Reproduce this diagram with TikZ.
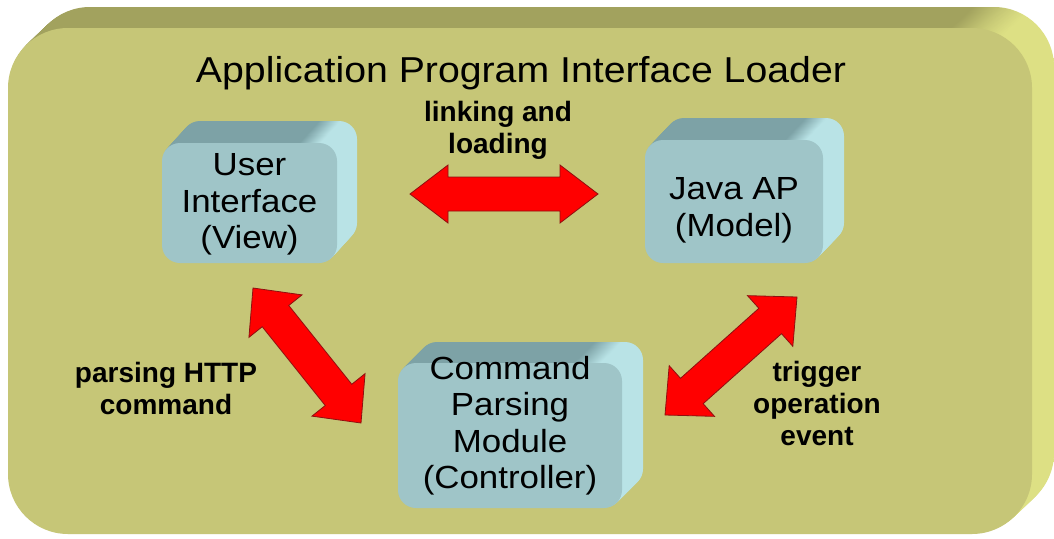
\documentclass[tikz,border=0pt]{standalone}
\usepackage{fontspec}
\setmainfont{Liberation Sans}
\usetikzlibrary{calc}
\definecolor{slabfront}{HTML}{C6C677}
\definecolor{slabtop}{HTML}{A2A25E}
\definecolor{slabside}{HTML}{DDE084}
\definecolor{boxfront}{HTML}{9FC5C8}
\definecolor{boxtop}{HTML}{7DA2A6}
\definecolor{boxside}{HTML}{B9E3E6}
\definecolor{arrowred}{HTML}{FF0000}
\definecolor{arrowline}{HTML}{8E1010}
\pgfdeclarehorizontalshading{slabshade}{100bp}{color(0bp)=(slabtop); color(25bp)=(slabtop); color(71bp)=(slabtop); color(73.5bp)=(slabside); color(100bp)=(slabside)}
\pgfdeclarehorizontalshading{boxshade}{100bp}{color(0bp)=(boxtop); color(25bp)=(boxtop); color(64bp)=(boxtop); color(70bp)=(boxside); color(100bp)=(boxside)}
% extruded sides: shading, x1, y1, x2, y2, dx, dy, radius
\newcommand\extrudesides[8]{%
  \foreach \k in {20,19,...,1}{%
    \shade[shading=#1, rounded corners=#8]
      ({#2+#6*\k/20},{#3+#7*\k/20}) rectangle ({#4+#6*\k/20},{#5+#7*\k/20});
  }}
% block arrow between two named coordinates: from, to, head length, head half width, shaft half width
\newcommand\blockarrow[5]{%
  \path[bigarrow] (#1)
    -- ($(#1)!#3!(#2)!#4!90:(#2)$)
    -- ($(#1)!#3!(#2)!#5!90:(#2)$)
    -- ($(#2)!#3!(#1)!#5!-90:(#1)$)
    -- ($(#2)!#3!(#1)!#4!-90:(#1)$)
    -- (#2)
    -- ($(#2)!#3!(#1)!#4!90:(#1)$)
    -- ($(#2)!#3!(#1)!#5!90:(#1)$)
    -- ($(#1)!#3!(#2)!#5!-90:(#2)$)
    -- ($(#1)!#3!(#2)!#4!-90:(#2)$)
    -- cycle;}
\newcommand\widetext[1]{\scalebox{1.09}[1]{\begin{tabular}{@{}c@{}}#1\end{tabular}}}
\tikzset{
  slabface/.style={fill=slabfront, rounded corners=60pt, inner sep=0pt},
  boxface/.style={fill=boxfront, rounded corners=18pt, inner sep=0pt},
  boxtext/.style={align=center, font=\fontsize{32}{36.5}\selectfont, text=black},
  titletext/.style={font=\fontsize{36}{40}\selectfont, text=black},
  labeltext/.style={align=center, font=\fontsize{28}{32}\selectfont\bfseries, text=black},
  bigarrow/.style={fill=arrowred, draw=arrowline, line width=0.8pt, line join=miter},
}
\begin{document}
\begin{tikzpicture}[x=1pt, y=-1pt]
\useasboundingbox[fill=white] (0,0) rectangle (1054,538);
% big slab
\extrudesides{slabshade}{8}{28}{1032}{534}{22}{-21}{60pt}
\node[slabface, minimum width=1024pt, minimum height=506pt] (slab) at (520,281) {};
\node[titletext] (title) at (521,73) {\scalebox{1.09}[1]{Application Program Interface Loader}};
% boxes
\extrudesides{boxshade}{162}{143}{337}{263}{20}{-22}{18pt}
\node[boxface, minimum width=175pt, minimum height=120pt] (ui) at (249.5,203) {};
\node[boxtext] (uitext) at ([yshift=-2pt]ui.center) {\widetext{User\\Interface\\(View)}};
\extrudesides{boxshade}{645}{140}{823}{263}{21}{-22}{18pt}
\node[boxface, minimum width=178pt, minimum height=123pt] (model) at (734,201.5) {};
\node[boxtext] (modeltext) at ([yshift=-9pt]model.center) {\widetext{Java AP\\(Model)}};
\extrudesides{boxshade}{398}{363}{622}{508}{21}{-21}{18pt}
\node[boxface, minimum width=224pt, minimum height=145pt] (ctrl) at (510,435.5) {};
\node[boxtext] (ctrltext) at ([yshift=9pt]ctrl.center) {\widetext{Command\\Parsing\\Module\\(Controller)}};
% arrows
\coordinate (la1) at (410,194);
\coordinate (la2) at (598,194);
\coordinate (pa1) at (253,288);
\coordinate (pa2) at (361,423);
\coordinate (ta1) at (797,297);
\coordinate (ta2) at (665,415);
\blockarrow{la1}{la2}{38pt}{29pt}{17pt}
\blockarrow{pa1}{pa2}{36pt}{34pt}{17pt}
\blockarrow{ta1}{ta2}{36pt}{34pt}{17pt}
% labels
\node[labeltext] (lalabel) at (498,130) {linking and\\loading};
\node[labeltext] (palabel) at (166,388) {parsing HTTP\\command};
\node[labeltext] (talabel) at (817,403) {trigger\\operation\\event};
\end{tikzpicture}
\end{document}
